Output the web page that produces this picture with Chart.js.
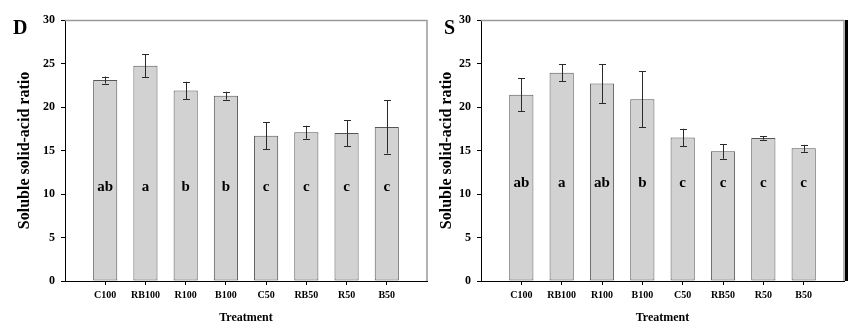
<!DOCTYPE html>
<html>
<head>
<meta charset="utf-8">
<script src="https://cdn.jsdelivr.net/npm/chart.js@4/dist/chart.umd.min.js"></script>
<style>
  html, body { margin: 0; padding: 0; background: #fff; }
  .panel { position: absolute; top: 0; width: 431px; height: 333px; }
  .tag { position: absolute; top: 16px; font: bold 20px "Liberation Serif", serif; color: #000; }
</style>
</head>
<body>
<div class="panel" style="left:0"><canvas id="chart-d" width="431" height="333"></canvas></div>
<div class="panel" style="left:431px"><canvas id="chart-s" width="431" height="333"></canvas></div>
<div class="tag" style="left:13px">D</div>
<div class="tag" style="left:444px">S</div>
<script>
(function () {
  "use strict";

  var categories = ["C100", "RB100", "R100", "B100", "C50", "RB50", "R50", "B50"];
  var yTicks = [0, 5, 10, 15, 20, 25, 30];

  // panel D
  var dMeans = [23.1, 24.75, 21.9, 21.3, 16.7, 17.1, 17.0, 17.7];
  var dErrors = [0.4, 1.3, 1.0, 0.45, 1.55, 0.75, 1.5, 3.05];
  var dLetters = ["ab", "a", "b", "b", "c", "c", "c", "c"];

  // panel S
  var sMeans = [21.4, 23.95, 22.7, 20.9, 16.5, 14.9, 16.45, 15.25];
  var sErrors = [1.9, 1.0, 2.25, 3.2, 1.0, 0.85, 0.2, 0.4];
  var sLetters = ["ab", "a", "ab", "b", "c", "c", "c", "c"];

  var SERIF = "'Liberation Serif', 'Times New Roman', serif";

  /* ── Plugins ───────────────────────────────── */

  var errorBars = {
    id: "errorBars",
    afterDatasetsDraw: function (chart, args, opts) {
      var ctx = chart.ctx;
      var y = chart.scales.y;
      var meta = chart.getDatasetMeta(0);
      var vals = chart.data.datasets[0].data;
      ctx.save();
      ctx.strokeStyle = "#2a2a2a";
      ctx.lineWidth = 1;
      meta.data.forEach(function (bar, i) {
        var v = vals[i].y, e = opts.errors[i];
        var x = Math.round(bar.x) + 0.5;
        var top = y.getPixelForValue(v + e), bot = y.getPixelForValue(v - e);
        ctx.beginPath();
        ctx.moveTo(x, top); ctx.lineTo(x, bot);
        ctx.moveTo(x - 3.5, Math.round(top) + 0.5); ctx.lineTo(x + 3.5, Math.round(top) + 0.5);
        ctx.moveTo(x - 3.5, Math.round(bot) + 0.5); ctx.lineTo(x + 3.5, Math.round(bot) + 0.5);
        ctx.stroke();
      });
      ctx.restore();
    }
  };

  var letters = {
    id: "letters",
    afterDatasetsDraw: function (chart, args, opts) {
      var ctx = chart.ctx;
      var py = chart.scales.y.getPixelForValue(opts.level);
      ctx.save();
      ctx.font = "bold 15px " + SERIF;
      ctx.fillStyle = "#000";
      ctx.textAlign = "center";
      ctx.textBaseline = "middle";
      chart.getDatasetMeta(0).data.forEach(function (bar, i) {
        ctx.fillText(opts.labels[i], bar.x, py);
      });
      ctx.restore();
    }
  };

  var frame = {
    id: "frame",
    afterDraw: function (chart, args, opts) {
      var a = chart.chartArea, ctx = chart.ctx;
      ctx.save();
      ctx.strokeStyle = "#9a9a9a";
      ctx.lineWidth = 1.5;
      ctx.beginPath();
      ctx.moveTo(a.left, a.top + 0.5);
      ctx.lineTo(a.right, a.top + 0.5);
      ctx.lineTo(a.right, a.bottom);
      ctx.stroke();
      if (opts.heavyRight) {
        ctx.strokeStyle = "#000";
        ctx.lineWidth = 3;
        ctx.beginPath();
        ctx.moveTo(a.right + 2.5, a.top);
        ctx.lineTo(a.right + 2.5, a.bottom);
        ctx.stroke();
      }
      ctx.restore();
    }
  };

  /* ── Build ─────────────────────────────────── */

  function makeChart(id, means, errors, marks, level, pad, yWidth, heavyRight) {
    var points = means.map(function (v, i) { return { x: i, y: v }; });
    return new Chart(document.getElementById(id), {
      type: "bar",
      data: {
        datasets: [{
          data: points,
          backgroundColor: "#d2d2d2",
          borderColor: "#555555",
          borderWidth: 1,
          borderSkipped: false,
          categoryPercentage: 1,
          barPercentage: 0.6
        }]
      },
      options: {
        responsive: false,
        animation: false,
        layout: { padding: pad },
        scales: {
          x: {
            type: "linear",
            min: -1,
            max: 8,
            offset: false,
            afterBuildTicks: function (s) {
              s.ticks = categories.map(function (c, i) { return { value: i }; });
            },
            afterFit: function (s) { s.height = 52; },
            ticks: {
              autoSkip: false,
              maxRotation: 0,
              padding: 4,
              color: "#000",
              font: { family: SERIF, size: 10, weight: "bold" },
              callback: function (v) { return categories[v] || ""; }
            },
            grid: { offset: false, drawOnChartArea: false, drawTicks: true, tickLength: 4, color: "#000" },
            border: { color: "#000", width: 1 },
            title: {
              display: true,
              text: "Treatment",
              color: "#000",
              padding: { top: 0, bottom: 8 },
              font: { family: SERIF, size: 12, weight: "bold" }
            }
          },
          y: {
            min: 0,
            max: 30,
            afterBuildTicks: function (s) {
              s.ticks = yTicks.map(function (v) { return { value: v }; });
            },
            afterFit: function (s) { s.width = yWidth; },
            ticks: {
              padding: 6,
              color: "#000",
              font: { family: SERIF, size: 12, weight: "bold" }
            },
            grid: { drawOnChartArea: false, drawTicks: true, tickLength: 4, color: "#000" },
            border: { color: "#000", width: 1 },
            title: {
              display: true,
              text: "Soluble solid-acid ratio",
              color: "#000",
              padding: { top: 6, bottom: 0 },
              font: { family: SERIF, size: 16, weight: "bold" }
            }
          }
        },
        plugins: {
          legend: { display: false },
          tooltip: { enabled: false },
          errorBars: { errors: errors },
          letters: { labels: marks, level: level },
          frame: { heavyRight: heavyRight }
        }
      },
      plugins: [errorBars, letters, frame]
    });
  }

  function init() {
    makeChart("chart-d", dMeans, dErrors, dLetters, 10.8,
      { left: 9, right: 4, top: 20, bottom: 0 }, 56, false);
    makeChart("chart-s", sMeans, sErrors, sLetters, 11.3,
      { left: 0, right: 18, top: 20, bottom: 0 }, 50, true);
  }

  if (document.readyState === "loading") {
    document.addEventListener("DOMContentLoaded", init);
  } else {
    init();
  }
})();
</script>
</body>
</html>
